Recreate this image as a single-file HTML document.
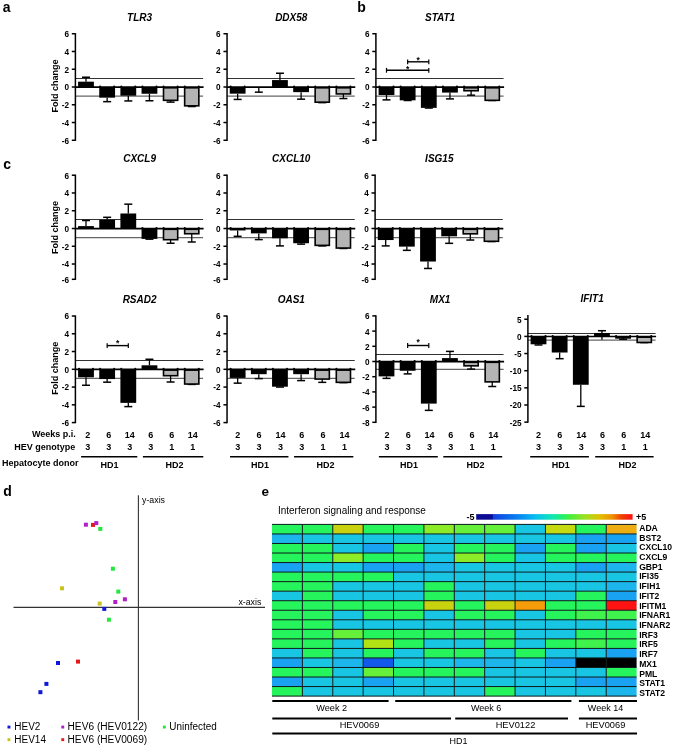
<!DOCTYPE html><html><head><meta charset="utf-8"><style>html,body{margin:0;padding:0;background:#fff;width:675px;height:747px;overflow:hidden}svg{display:block;font-family:"Liberation Sans",sans-serif;will-change:transform}</style></head><body><svg width="675" height="747" viewBox="0 0 675 747" font-family='"Liberation Sans", sans-serif'>
<rect width="675" height="747" fill="#fff"/>
<text x="2.80" y="12.20" font-size="14" font-weight="bold" font-style="normal" text-anchor="start" fill="#000">a</text>
<text x="357.20" y="12.00" font-size="14" font-weight="bold" font-style="normal" text-anchor="start" fill="#000">b</text>
<text x="3.20" y="169.00" font-size="14" font-weight="bold" font-style="normal" text-anchor="start" fill="#000">c</text>
<text x="3.20" y="495.70" font-size="14" font-weight="bold" font-style="normal" text-anchor="start" fill="#000">d</text>
<text x="261.50" y="496.00" font-size="13.5" font-weight="bold" font-style="normal" text-anchor="start" fill="#000">e</text>
<line x1="75.40" y1="78.50" x2="203.10" y2="78.50" stroke="#333" stroke-width="1.0"/>
<line x1="75.40" y1="96.08" x2="203.10" y2="96.08" stroke="#666" stroke-width="1.3"/>
<line x1="86.00" y1="81.67" x2="86.00" y2="77.23" stroke="#000" stroke-width="1.3"/>
<line x1="82.00" y1="77.23" x2="90.00" y2="77.23" stroke="#000" stroke-width="1.5"/>
<rect x="78.10" y="81.67" width="15.80" height="5.33" fill="#000"/>
<line x1="107.15" y1="97.66" x2="107.15" y2="101.65" stroke="#000" stroke-width="1.3"/>
<line x1="103.15" y1="101.65" x2="111.15" y2="101.65" stroke="#000" stroke-width="1.5"/>
<rect x="99.25" y="87.00" width="15.80" height="10.66" fill="#000"/>
<circle cx="100.15" cy="86.60" r="1.05" fill="#000"/><circle cx="114.15" cy="86.60" r="1.05" fill="#000"/>
<line x1="128.30" y1="95.70" x2="128.30" y2="100.94" stroke="#000" stroke-width="1.3"/>
<line x1="124.30" y1="100.94" x2="132.30" y2="100.94" stroke="#000" stroke-width="1.5"/>
<rect x="120.40" y="87.00" width="15.80" height="8.70" fill="#000"/>
<circle cx="121.30" cy="86.60" r="1.05" fill="#000"/><circle cx="135.30" cy="86.60" r="1.05" fill="#000"/>
<line x1="149.45" y1="93.75" x2="149.45" y2="100.76" stroke="#000" stroke-width="1.3"/>
<line x1="145.45" y1="100.76" x2="153.45" y2="100.76" stroke="#000" stroke-width="1.5"/>
<rect x="141.55" y="87.00" width="15.80" height="6.75" fill="#000"/>
<circle cx="142.45" cy="86.60" r="1.05" fill="#000"/><circle cx="156.45" cy="86.60" r="1.05" fill="#000"/>
<line x1="170.60" y1="100.32" x2="170.60" y2="102.10" stroke="#000" stroke-width="1.3"/>
<line x1="166.60" y1="102.10" x2="174.60" y2="102.10" stroke="#000" stroke-width="1.5"/>
<rect x="163.50" y="87.80" width="14.20" height="12.52" fill="#b4b4b4" stroke="#000" stroke-width="1.6"/>
<circle cx="163.60" cy="86.60" r="1.05" fill="#000"/><circle cx="177.60" cy="86.60" r="1.05" fill="#000"/>
<line x1="191.75" y1="105.83" x2="191.75" y2="106.54" stroke="#000" stroke-width="1.3"/>
<line x1="187.75" y1="106.54" x2="195.75" y2="106.54" stroke="#000" stroke-width="1.5"/>
<rect x="184.65" y="87.80" width="14.20" height="18.03" fill="#b4b4b4" stroke="#000" stroke-width="1.6"/>
<circle cx="184.75" cy="86.60" r="1.05" fill="#000"/><circle cx="198.75" cy="86.60" r="1.05" fill="#000"/>
<line x1="75.40" y1="87.10" x2="203.60" y2="87.10" stroke="#000" stroke-width="1.6"/>
<line x1="75.40" y1="33.12" x2="75.40" y2="140.88" stroke="#000" stroke-width="1.5"/>
<line x1="71.80" y1="33.72" x2="75.40" y2="33.72" stroke="#000" stroke-width="1.5"/>
<text x="69.00" y="37.12" font-size="8.2" font-weight="bold" font-style="normal" text-anchor="end" fill="#000">6</text>
<line x1="71.80" y1="51.48" x2="75.40" y2="51.48" stroke="#000" stroke-width="1.5"/>
<text x="69.00" y="54.88" font-size="8.2" font-weight="bold" font-style="normal" text-anchor="end" fill="#000">4</text>
<line x1="71.80" y1="69.24" x2="75.40" y2="69.24" stroke="#000" stroke-width="1.5"/>
<text x="69.00" y="72.64" font-size="8.2" font-weight="bold" font-style="normal" text-anchor="end" fill="#000">2</text>
<line x1="71.80" y1="87.00" x2="75.40" y2="87.00" stroke="#000" stroke-width="1.5"/>
<text x="69.00" y="90.40" font-size="8.2" font-weight="bold" font-style="normal" text-anchor="end" fill="#000">0</text>
<line x1="71.80" y1="104.76" x2="75.40" y2="104.76" stroke="#000" stroke-width="1.5"/>
<text x="69.00" y="108.16" font-size="8.2" font-weight="bold" font-style="normal" text-anchor="end" fill="#000">-2</text>
<line x1="71.80" y1="122.52" x2="75.40" y2="122.52" stroke="#000" stroke-width="1.5"/>
<text x="69.00" y="125.92" font-size="8.2" font-weight="bold" font-style="normal" text-anchor="end" fill="#000">-4</text>
<line x1="71.80" y1="140.28" x2="75.40" y2="140.28" stroke="#000" stroke-width="1.5"/>
<text x="69.00" y="143.68" font-size="8.2" font-weight="bold" font-style="normal" text-anchor="end" fill="#000">-6</text>
<text x="139.60" y="20.72" font-size="10" font-weight="bold" font-style="italic" text-anchor="middle" fill="#000">TLR3</text>
<text transform="translate(57.60,86.00) rotate(-90)" x="0" y="0" font-size="8.6" font-weight="bold" text-anchor="middle" textLength="53" lengthAdjust="spacingAndGlyphs">Fold change</text>
<line x1="227.05" y1="78.50" x2="354.75" y2="78.50" stroke="#333" stroke-width="1.0"/>
<line x1="227.05" y1="96.08" x2="354.75" y2="96.08" stroke="#666" stroke-width="1.3"/>
<line x1="237.65" y1="93.66" x2="237.65" y2="99.43" stroke="#000" stroke-width="1.3"/>
<line x1="233.65" y1="99.43" x2="241.65" y2="99.43" stroke="#000" stroke-width="1.5"/>
<rect x="229.75" y="87.00" width="15.80" height="6.66" fill="#000"/>
<circle cx="230.65" cy="86.60" r="1.05" fill="#000"/><circle cx="244.65" cy="86.60" r="1.05" fill="#000"/>
<line x1="258.80" y1="87.44" x2="258.80" y2="92.15" stroke="#000" stroke-width="1.3"/>
<line x1="254.80" y1="92.15" x2="262.80" y2="92.15" stroke="#000" stroke-width="1.5"/>
<rect x="250.90" y="87.00" width="15.80" height="0.44" fill="#000"/>
<line x1="279.95" y1="80.07" x2="279.95" y2="73.24" stroke="#000" stroke-width="1.3"/>
<line x1="275.95" y1="73.24" x2="283.95" y2="73.24" stroke="#000" stroke-width="1.5"/>
<rect x="272.05" y="80.07" width="15.80" height="6.93" fill="#000"/>
<line x1="301.10" y1="92.15" x2="301.10" y2="99.17" stroke="#000" stroke-width="1.3"/>
<line x1="297.10" y1="99.17" x2="305.10" y2="99.17" stroke="#000" stroke-width="1.5"/>
<rect x="293.20" y="87.00" width="15.80" height="5.15" fill="#000"/>
<circle cx="294.10" cy="86.60" r="1.05" fill="#000"/><circle cx="308.10" cy="86.60" r="1.05" fill="#000"/>
<line x1="322.25" y1="102.18" x2="322.25" y2="102.63" stroke="#000" stroke-width="1.3"/>
<line x1="318.25" y1="102.63" x2="326.25" y2="102.63" stroke="#000" stroke-width="1.5"/>
<rect x="315.15" y="87.80" width="14.20" height="14.38" fill="#b4b4b4" stroke="#000" stroke-width="1.6"/>
<circle cx="315.25" cy="86.60" r="1.05" fill="#000"/><circle cx="329.25" cy="86.60" r="1.05" fill="#000"/>
<line x1="343.40" y1="93.93" x2="343.40" y2="98.54" stroke="#000" stroke-width="1.3"/>
<line x1="339.40" y1="98.54" x2="347.40" y2="98.54" stroke="#000" stroke-width="1.5"/>
<rect x="336.30" y="87.80" width="14.20" height="6.13" fill="#b4b4b4" stroke="#000" stroke-width="1.6"/>
<circle cx="336.40" cy="86.60" r="1.05" fill="#000"/><circle cx="350.40" cy="86.60" r="1.05" fill="#000"/>
<line x1="227.05" y1="87.10" x2="355.25" y2="87.10" stroke="#000" stroke-width="1.6"/>
<line x1="227.05" y1="33.12" x2="227.05" y2="140.88" stroke="#000" stroke-width="1.5"/>
<line x1="223.45" y1="33.72" x2="227.05" y2="33.72" stroke="#000" stroke-width="1.5"/>
<text x="220.65" y="37.12" font-size="8.2" font-weight="bold" font-style="normal" text-anchor="end" fill="#000">6</text>
<line x1="223.45" y1="51.48" x2="227.05" y2="51.48" stroke="#000" stroke-width="1.5"/>
<text x="220.65" y="54.88" font-size="8.2" font-weight="bold" font-style="normal" text-anchor="end" fill="#000">4</text>
<line x1="223.45" y1="69.24" x2="227.05" y2="69.24" stroke="#000" stroke-width="1.5"/>
<text x="220.65" y="72.64" font-size="8.2" font-weight="bold" font-style="normal" text-anchor="end" fill="#000">2</text>
<line x1="223.45" y1="87.00" x2="227.05" y2="87.00" stroke="#000" stroke-width="1.5"/>
<text x="220.65" y="90.40" font-size="8.2" font-weight="bold" font-style="normal" text-anchor="end" fill="#000">0</text>
<line x1="223.45" y1="104.76" x2="227.05" y2="104.76" stroke="#000" stroke-width="1.5"/>
<text x="220.65" y="108.16" font-size="8.2" font-weight="bold" font-style="normal" text-anchor="end" fill="#000">-2</text>
<line x1="223.45" y1="122.52" x2="227.05" y2="122.52" stroke="#000" stroke-width="1.5"/>
<text x="220.65" y="125.92" font-size="8.2" font-weight="bold" font-style="normal" text-anchor="end" fill="#000">-4</text>
<line x1="223.45" y1="140.28" x2="227.05" y2="140.28" stroke="#000" stroke-width="1.5"/>
<text x="220.65" y="143.68" font-size="8.2" font-weight="bold" font-style="normal" text-anchor="end" fill="#000">-6</text>
<text x="291.25" y="20.72" font-size="10" font-weight="bold" font-style="italic" text-anchor="middle" fill="#000">DDX58</text>
<line x1="375.90" y1="78.50" x2="503.60" y2="78.50" stroke="#333" stroke-width="1.0"/>
<line x1="375.90" y1="96.08" x2="503.60" y2="96.08" stroke="#666" stroke-width="1.3"/>
<line x1="386.50" y1="94.99" x2="386.50" y2="99.88" stroke="#000" stroke-width="1.3"/>
<line x1="382.50" y1="99.88" x2="390.50" y2="99.88" stroke="#000" stroke-width="1.5"/>
<rect x="378.60" y="87.00" width="15.80" height="7.99" fill="#000"/>
<circle cx="379.50" cy="86.60" r="1.05" fill="#000"/><circle cx="393.50" cy="86.60" r="1.05" fill="#000"/>
<line x1="407.65" y1="100.32" x2="407.65" y2="100.50" stroke="#000" stroke-width="1.3"/>
<line x1="403.65" y1="100.50" x2="411.65" y2="100.50" stroke="#000" stroke-width="1.5"/>
<rect x="399.75" y="87.00" width="15.80" height="13.32" fill="#000"/>
<circle cx="400.65" cy="86.60" r="1.05" fill="#000"/><circle cx="414.65" cy="86.60" r="1.05" fill="#000"/>
<line x1="428.80" y1="107.87" x2="428.80" y2="108.05" stroke="#000" stroke-width="1.3"/>
<line x1="424.80" y1="108.05" x2="432.80" y2="108.05" stroke="#000" stroke-width="1.5"/>
<rect x="420.90" y="87.00" width="15.80" height="20.87" fill="#000"/>
<circle cx="421.80" cy="86.60" r="1.05" fill="#000"/><circle cx="435.80" cy="86.60" r="1.05" fill="#000"/>
<line x1="449.95" y1="92.59" x2="449.95" y2="98.90" stroke="#000" stroke-width="1.3"/>
<line x1="445.95" y1="98.90" x2="453.95" y2="98.90" stroke="#000" stroke-width="1.5"/>
<rect x="442.05" y="87.00" width="15.80" height="5.59" fill="#000"/>
<circle cx="442.95" cy="86.60" r="1.05" fill="#000"/><circle cx="456.95" cy="86.60" r="1.05" fill="#000"/>
<line x1="471.10" y1="90.73" x2="471.10" y2="95.17" stroke="#000" stroke-width="1.3"/>
<line x1="467.10" y1="95.17" x2="475.10" y2="95.17" stroke="#000" stroke-width="1.5"/>
<rect x="464.00" y="87.80" width="14.20" height="2.93" fill="#b4b4b4" stroke="#000" stroke-width="1.6"/>
<circle cx="464.10" cy="86.60" r="1.05" fill="#000"/><circle cx="478.10" cy="86.60" r="1.05" fill="#000"/>
<line x1="492.25" y1="100.32" x2="492.25" y2="100.50" stroke="#000" stroke-width="1.3"/>
<line x1="488.25" y1="100.50" x2="496.25" y2="100.50" stroke="#000" stroke-width="1.5"/>
<rect x="485.15" y="87.80" width="14.20" height="12.52" fill="#b4b4b4" stroke="#000" stroke-width="1.6"/>
<circle cx="485.25" cy="86.60" r="1.05" fill="#000"/><circle cx="499.25" cy="86.60" r="1.05" fill="#000"/>
<line x1="375.90" y1="87.10" x2="504.10" y2="87.10" stroke="#000" stroke-width="1.6"/>
<line x1="375.90" y1="33.12" x2="375.90" y2="140.88" stroke="#000" stroke-width="1.5"/>
<line x1="372.30" y1="33.72" x2="375.90" y2="33.72" stroke="#000" stroke-width="1.5"/>
<text x="369.50" y="37.12" font-size="8.2" font-weight="bold" font-style="normal" text-anchor="end" fill="#000">6</text>
<line x1="372.30" y1="51.48" x2="375.90" y2="51.48" stroke="#000" stroke-width="1.5"/>
<text x="369.50" y="54.88" font-size="8.2" font-weight="bold" font-style="normal" text-anchor="end" fill="#000">4</text>
<line x1="372.30" y1="69.24" x2="375.90" y2="69.24" stroke="#000" stroke-width="1.5"/>
<text x="369.50" y="72.64" font-size="8.2" font-weight="bold" font-style="normal" text-anchor="end" fill="#000">2</text>
<line x1="372.30" y1="87.00" x2="375.90" y2="87.00" stroke="#000" stroke-width="1.5"/>
<text x="369.50" y="90.40" font-size="8.2" font-weight="bold" font-style="normal" text-anchor="end" fill="#000">0</text>
<line x1="372.30" y1="104.76" x2="375.90" y2="104.76" stroke="#000" stroke-width="1.5"/>
<text x="369.50" y="108.16" font-size="8.2" font-weight="bold" font-style="normal" text-anchor="end" fill="#000">-2</text>
<line x1="372.30" y1="122.52" x2="375.90" y2="122.52" stroke="#000" stroke-width="1.5"/>
<text x="369.50" y="125.92" font-size="8.2" font-weight="bold" font-style="normal" text-anchor="end" fill="#000">-4</text>
<line x1="372.30" y1="140.28" x2="375.90" y2="140.28" stroke="#000" stroke-width="1.5"/>
<text x="369.50" y="143.68" font-size="8.2" font-weight="bold" font-style="normal" text-anchor="end" fill="#000">-6</text>
<text x="440.10" y="20.72" font-size="10" font-weight="bold" font-style="italic" text-anchor="middle" fill="#000">STAT1</text>
<line x1="386.50" y1="70.30" x2="428.80" y2="70.30" stroke="#000" stroke-width="1.4"/>
<line x1="386.50" y1="67.90" x2="386.50" y2="72.70" stroke="#000" stroke-width="1.2"/>
<line x1="428.80" y1="67.90" x2="428.80" y2="72.70" stroke="#000" stroke-width="1.2"/>
<text x="407.65" y="71.90" font-size="8.5" font-weight="bold" font-style="normal" text-anchor="middle" fill="#000">*</text>
<line x1="407.65" y1="61.80" x2="428.80" y2="61.80" stroke="#000" stroke-width="1.4"/>
<line x1="407.65" y1="59.40" x2="407.65" y2="64.20" stroke="#000" stroke-width="1.2"/>
<line x1="428.80" y1="59.40" x2="428.80" y2="64.20" stroke="#000" stroke-width="1.2"/>
<text x="418.22" y="63.00" font-size="8.5" font-weight="bold" font-style="normal" text-anchor="middle" fill="#000">*</text>
<line x1="75.40" y1="219.50" x2="203.10" y2="219.50" stroke="#333" stroke-width="1.0"/>
<line x1="75.40" y1="237.58" x2="203.10" y2="237.58" stroke="#666" stroke-width="1.3"/>
<line x1="86.00" y1="226.10" x2="86.00" y2="220.51" stroke="#000" stroke-width="1.3"/>
<line x1="82.00" y1="220.51" x2="90.00" y2="220.51" stroke="#000" stroke-width="1.5"/>
<rect x="78.10" y="226.10" width="15.80" height="2.40" fill="#000"/>
<line x1="107.15" y1="219.80" x2="107.15" y2="217.31" stroke="#000" stroke-width="1.3"/>
<line x1="103.15" y1="217.31" x2="111.15" y2="217.31" stroke="#000" stroke-width="1.5"/>
<rect x="99.25" y="219.80" width="15.80" height="8.70" fill="#000"/>
<line x1="128.30" y1="213.49" x2="128.30" y2="204.17" stroke="#000" stroke-width="1.3"/>
<line x1="124.30" y1="204.17" x2="132.30" y2="204.17" stroke="#000" stroke-width="1.5"/>
<rect x="120.40" y="213.49" width="15.80" height="15.01" fill="#000"/>
<line x1="149.45" y1="238.89" x2="149.45" y2="239.16" stroke="#000" stroke-width="1.3"/>
<line x1="145.45" y1="239.16" x2="153.45" y2="239.16" stroke="#000" stroke-width="1.5"/>
<rect x="141.55" y="228.50" width="15.80" height="10.39" fill="#000"/>
<circle cx="142.45" cy="228.10" r="1.05" fill="#000"/><circle cx="156.45" cy="228.10" r="1.05" fill="#000"/>
<line x1="170.60" y1="239.69" x2="170.60" y2="243.24" stroke="#000" stroke-width="1.3"/>
<line x1="166.60" y1="243.24" x2="174.60" y2="243.24" stroke="#000" stroke-width="1.5"/>
<rect x="163.50" y="229.30" width="14.20" height="10.39" fill="#b4b4b4" stroke="#000" stroke-width="1.6"/>
<circle cx="163.60" cy="228.10" r="1.05" fill="#000"/><circle cx="177.60" cy="228.10" r="1.05" fill="#000"/>
<line x1="191.75" y1="233.74" x2="191.75" y2="242.00" stroke="#000" stroke-width="1.3"/>
<line x1="187.75" y1="242.00" x2="195.75" y2="242.00" stroke="#000" stroke-width="1.5"/>
<rect x="184.65" y="229.30" width="14.20" height="4.44" fill="#b4b4b4" stroke="#000" stroke-width="1.6"/>
<circle cx="184.75" cy="228.10" r="1.05" fill="#000"/><circle cx="198.75" cy="228.10" r="1.05" fill="#000"/>
<line x1="75.40" y1="228.60" x2="203.60" y2="228.60" stroke="#000" stroke-width="1.6"/>
<line x1="75.40" y1="174.62" x2="75.40" y2="279.90" stroke="#000" stroke-width="1.5"/>
<line x1="71.80" y1="175.22" x2="75.40" y2="175.22" stroke="#000" stroke-width="1.5"/>
<text x="69.00" y="178.62" font-size="8.2" font-weight="bold" font-style="normal" text-anchor="end" fill="#000">6</text>
<line x1="71.80" y1="192.98" x2="75.40" y2="192.98" stroke="#000" stroke-width="1.5"/>
<text x="69.00" y="196.38" font-size="8.2" font-weight="bold" font-style="normal" text-anchor="end" fill="#000">4</text>
<line x1="71.80" y1="210.74" x2="75.40" y2="210.74" stroke="#000" stroke-width="1.5"/>
<text x="69.00" y="214.14" font-size="8.2" font-weight="bold" font-style="normal" text-anchor="end" fill="#000">2</text>
<line x1="71.80" y1="228.50" x2="75.40" y2="228.50" stroke="#000" stroke-width="1.5"/>
<text x="69.00" y="231.90" font-size="8.2" font-weight="bold" font-style="normal" text-anchor="end" fill="#000">0</text>
<line x1="71.80" y1="246.26" x2="75.40" y2="246.26" stroke="#000" stroke-width="1.5"/>
<text x="69.00" y="249.66" font-size="8.2" font-weight="bold" font-style="normal" text-anchor="end" fill="#000">-2</text>
<line x1="71.80" y1="264.02" x2="75.40" y2="264.02" stroke="#000" stroke-width="1.5"/>
<text x="69.00" y="267.42" font-size="8.2" font-weight="bold" font-style="normal" text-anchor="end" fill="#000">-4</text>
<line x1="71.80" y1="279.30" x2="75.40" y2="279.30" stroke="#000" stroke-width="1.5"/>
<text x="69.00" y="282.70" font-size="8.2" font-weight="bold" font-style="normal" text-anchor="end" fill="#000">-6</text>
<text x="139.60" y="162.22" font-size="10" font-weight="bold" font-style="italic" text-anchor="middle" fill="#000">CXCL9</text>
<text transform="translate(57.60,227.50) rotate(-90)" x="0" y="0" font-size="8.6" font-weight="bold" text-anchor="middle" textLength="53" lengthAdjust="spacingAndGlyphs">Fold change</text>
<line x1="227.05" y1="219.50" x2="354.75" y2="219.50" stroke="#333" stroke-width="1.0"/>
<line x1="227.05" y1="237.58" x2="354.75" y2="237.58" stroke="#666" stroke-width="1.3"/>
<line x1="237.65" y1="230.45" x2="237.65" y2="236.31" stroke="#000" stroke-width="1.3"/>
<line x1="233.65" y1="236.31" x2="241.65" y2="236.31" stroke="#000" stroke-width="1.5"/>
<rect x="229.75" y="228.50" width="15.80" height="1.95" fill="#000"/>
<circle cx="230.65" cy="228.10" r="1.05" fill="#000"/><circle cx="244.65" cy="228.10" r="1.05" fill="#000"/>
<line x1="258.80" y1="233.38" x2="258.80" y2="239.60" stroke="#000" stroke-width="1.3"/>
<line x1="254.80" y1="239.60" x2="262.80" y2="239.60" stroke="#000" stroke-width="1.5"/>
<rect x="250.90" y="228.50" width="15.80" height="4.88" fill="#000"/>
<circle cx="251.80" cy="228.10" r="1.05" fill="#000"/><circle cx="265.80" cy="228.10" r="1.05" fill="#000"/>
<line x1="279.95" y1="238.27" x2="279.95" y2="245.90" stroke="#000" stroke-width="1.3"/>
<line x1="275.95" y1="245.90" x2="283.95" y2="245.90" stroke="#000" stroke-width="1.5"/>
<rect x="272.05" y="228.50" width="15.80" height="9.77" fill="#000"/>
<circle cx="272.95" cy="228.10" r="1.05" fill="#000"/><circle cx="286.95" cy="228.10" r="1.05" fill="#000"/>
<line x1="301.10" y1="243.24" x2="301.10" y2="244.13" stroke="#000" stroke-width="1.3"/>
<line x1="297.10" y1="244.13" x2="305.10" y2="244.13" stroke="#000" stroke-width="1.5"/>
<rect x="293.20" y="228.50" width="15.80" height="14.74" fill="#000"/>
<circle cx="294.10" cy="228.10" r="1.05" fill="#000"/><circle cx="308.10" cy="228.10" r="1.05" fill="#000"/>
<line x1="322.25" y1="245.37" x2="322.25" y2="245.90" stroke="#000" stroke-width="1.3"/>
<line x1="318.25" y1="245.90" x2="326.25" y2="245.90" stroke="#000" stroke-width="1.5"/>
<rect x="315.15" y="229.30" width="14.20" height="16.07" fill="#b4b4b4" stroke="#000" stroke-width="1.6"/>
<circle cx="315.25" cy="228.10" r="1.05" fill="#000"/><circle cx="329.25" cy="228.10" r="1.05" fill="#000"/>
<line x1="343.40" y1="248.04" x2="343.40" y2="248.48" stroke="#000" stroke-width="1.3"/>
<line x1="339.40" y1="248.48" x2="347.40" y2="248.48" stroke="#000" stroke-width="1.5"/>
<rect x="336.30" y="229.30" width="14.20" height="18.74" fill="#b4b4b4" stroke="#000" stroke-width="1.6"/>
<circle cx="336.40" cy="228.10" r="1.05" fill="#000"/><circle cx="350.40" cy="228.10" r="1.05" fill="#000"/>
<line x1="227.05" y1="228.60" x2="355.25" y2="228.60" stroke="#000" stroke-width="1.6"/>
<line x1="227.05" y1="174.62" x2="227.05" y2="279.90" stroke="#000" stroke-width="1.5"/>
<line x1="223.45" y1="175.22" x2="227.05" y2="175.22" stroke="#000" stroke-width="1.5"/>
<text x="220.65" y="178.62" font-size="8.2" font-weight="bold" font-style="normal" text-anchor="end" fill="#000">6</text>
<line x1="223.45" y1="192.98" x2="227.05" y2="192.98" stroke="#000" stroke-width="1.5"/>
<text x="220.65" y="196.38" font-size="8.2" font-weight="bold" font-style="normal" text-anchor="end" fill="#000">4</text>
<line x1="223.45" y1="210.74" x2="227.05" y2="210.74" stroke="#000" stroke-width="1.5"/>
<text x="220.65" y="214.14" font-size="8.2" font-weight="bold" font-style="normal" text-anchor="end" fill="#000">2</text>
<line x1="223.45" y1="228.50" x2="227.05" y2="228.50" stroke="#000" stroke-width="1.5"/>
<text x="220.65" y="231.90" font-size="8.2" font-weight="bold" font-style="normal" text-anchor="end" fill="#000">0</text>
<line x1="223.45" y1="246.26" x2="227.05" y2="246.26" stroke="#000" stroke-width="1.5"/>
<text x="220.65" y="249.66" font-size="8.2" font-weight="bold" font-style="normal" text-anchor="end" fill="#000">-2</text>
<line x1="223.45" y1="264.02" x2="227.05" y2="264.02" stroke="#000" stroke-width="1.5"/>
<text x="220.65" y="267.42" font-size="8.2" font-weight="bold" font-style="normal" text-anchor="end" fill="#000">-4</text>
<line x1="223.45" y1="279.30" x2="227.05" y2="279.30" stroke="#000" stroke-width="1.5"/>
<text x="220.65" y="282.70" font-size="8.2" font-weight="bold" font-style="normal" text-anchor="end" fill="#000">-6</text>
<text x="291.25" y="162.22" font-size="10" font-weight="bold" font-style="italic" text-anchor="middle" fill="#000">CXCL10</text>
<line x1="375.10" y1="219.50" x2="502.80" y2="219.50" stroke="#333" stroke-width="1.0"/>
<line x1="375.10" y1="237.58" x2="502.80" y2="237.58" stroke="#666" stroke-width="1.3"/>
<line x1="385.70" y1="240.04" x2="385.70" y2="245.90" stroke="#000" stroke-width="1.3"/>
<line x1="381.70" y1="245.90" x2="389.70" y2="245.90" stroke="#000" stroke-width="1.5"/>
<rect x="377.80" y="228.50" width="15.80" height="11.54" fill="#000"/>
<circle cx="378.70" cy="228.10" r="1.05" fill="#000"/><circle cx="392.70" cy="228.10" r="1.05" fill="#000"/>
<line x1="406.85" y1="246.62" x2="406.85" y2="250.34" stroke="#000" stroke-width="1.3"/>
<line x1="402.85" y1="250.34" x2="410.85" y2="250.34" stroke="#000" stroke-width="1.5"/>
<rect x="398.95" y="228.50" width="15.80" height="18.12" fill="#000"/>
<circle cx="399.85" cy="228.10" r="1.05" fill="#000"/><circle cx="413.85" cy="228.10" r="1.05" fill="#000"/>
<line x1="428.00" y1="261.53" x2="428.00" y2="268.46" stroke="#000" stroke-width="1.3"/>
<line x1="424.00" y1="268.46" x2="432.00" y2="268.46" stroke="#000" stroke-width="1.5"/>
<rect x="420.10" y="228.50" width="15.80" height="33.03" fill="#000"/>
<circle cx="421.00" cy="228.10" r="1.05" fill="#000"/><circle cx="435.00" cy="228.10" r="1.05" fill="#000"/>
<line x1="449.15" y1="236.31" x2="449.15" y2="243.33" stroke="#000" stroke-width="1.3"/>
<line x1="445.15" y1="243.33" x2="453.15" y2="243.33" stroke="#000" stroke-width="1.5"/>
<rect x="441.25" y="228.50" width="15.80" height="7.81" fill="#000"/>
<circle cx="442.15" cy="228.10" r="1.05" fill="#000"/><circle cx="456.15" cy="228.10" r="1.05" fill="#000"/>
<line x1="470.30" y1="233.83" x2="470.30" y2="240.04" stroke="#000" stroke-width="1.3"/>
<line x1="466.30" y1="240.04" x2="474.30" y2="240.04" stroke="#000" stroke-width="1.5"/>
<rect x="463.20" y="229.30" width="14.20" height="4.53" fill="#b4b4b4" stroke="#000" stroke-width="1.6"/>
<circle cx="463.30" cy="228.10" r="1.05" fill="#000"/><circle cx="477.30" cy="228.10" r="1.05" fill="#000"/>
<line x1="491.45" y1="241.29" x2="491.45" y2="241.55" stroke="#000" stroke-width="1.3"/>
<line x1="487.45" y1="241.55" x2="495.45" y2="241.55" stroke="#000" stroke-width="1.5"/>
<rect x="484.35" y="229.30" width="14.20" height="11.99" fill="#b4b4b4" stroke="#000" stroke-width="1.6"/>
<circle cx="484.45" cy="228.10" r="1.05" fill="#000"/><circle cx="498.45" cy="228.10" r="1.05" fill="#000"/>
<line x1="375.10" y1="228.60" x2="503.30" y2="228.60" stroke="#000" stroke-width="1.6"/>
<line x1="375.10" y1="174.62" x2="375.10" y2="279.90" stroke="#000" stroke-width="1.5"/>
<line x1="371.50" y1="175.22" x2="375.10" y2="175.22" stroke="#000" stroke-width="1.5"/>
<text x="368.70" y="178.62" font-size="8.2" font-weight="bold" font-style="normal" text-anchor="end" fill="#000">6</text>
<line x1="371.50" y1="192.98" x2="375.10" y2="192.98" stroke="#000" stroke-width="1.5"/>
<text x="368.70" y="196.38" font-size="8.2" font-weight="bold" font-style="normal" text-anchor="end" fill="#000">4</text>
<line x1="371.50" y1="210.74" x2="375.10" y2="210.74" stroke="#000" stroke-width="1.5"/>
<text x="368.70" y="214.14" font-size="8.2" font-weight="bold" font-style="normal" text-anchor="end" fill="#000">2</text>
<line x1="371.50" y1="228.50" x2="375.10" y2="228.50" stroke="#000" stroke-width="1.5"/>
<text x="368.70" y="231.90" font-size="8.2" font-weight="bold" font-style="normal" text-anchor="end" fill="#000">0</text>
<line x1="371.50" y1="246.26" x2="375.10" y2="246.26" stroke="#000" stroke-width="1.5"/>
<text x="368.70" y="249.66" font-size="8.2" font-weight="bold" font-style="normal" text-anchor="end" fill="#000">-2</text>
<line x1="371.50" y1="264.02" x2="375.10" y2="264.02" stroke="#000" stroke-width="1.5"/>
<text x="368.70" y="267.42" font-size="8.2" font-weight="bold" font-style="normal" text-anchor="end" fill="#000">-4</text>
<line x1="371.50" y1="279.30" x2="375.10" y2="279.30" stroke="#000" stroke-width="1.5"/>
<text x="368.70" y="282.70" font-size="8.2" font-weight="bold" font-style="normal" text-anchor="end" fill="#000">-6</text>
<text x="439.30" y="162.22" font-size="10" font-weight="bold" font-style="italic" text-anchor="middle" fill="#000">ISG15</text>
<line x1="75.40" y1="360.50" x2="203.10" y2="360.50" stroke="#333" stroke-width="1.0"/>
<line x1="75.40" y1="378.38" x2="203.10" y2="378.38" stroke="#666" stroke-width="1.3"/>
<line x1="86.00" y1="377.29" x2="86.00" y2="385.28" stroke="#000" stroke-width="1.3"/>
<line x1="82.00" y1="385.28" x2="90.00" y2="385.28" stroke="#000" stroke-width="1.5"/>
<rect x="78.10" y="369.30" width="15.80" height="7.99" fill="#000"/>
<circle cx="79.00" cy="368.90" r="1.05" fill="#000"/><circle cx="93.00" cy="368.90" r="1.05" fill="#000"/>
<line x1="107.15" y1="379.07" x2="107.15" y2="382.18" stroke="#000" stroke-width="1.3"/>
<line x1="103.15" y1="382.18" x2="111.15" y2="382.18" stroke="#000" stroke-width="1.5"/>
<rect x="99.25" y="369.30" width="15.80" height="9.77" fill="#000"/>
<circle cx="100.15" cy="368.90" r="1.05" fill="#000"/><circle cx="114.15" cy="368.90" r="1.05" fill="#000"/>
<line x1="128.30" y1="402.87" x2="128.30" y2="406.60" stroke="#000" stroke-width="1.3"/>
<line x1="124.30" y1="406.60" x2="132.30" y2="406.60" stroke="#000" stroke-width="1.5"/>
<rect x="120.40" y="369.30" width="15.80" height="33.57" fill="#000"/>
<circle cx="121.30" cy="368.90" r="1.05" fill="#000"/><circle cx="135.30" cy="368.90" r="1.05" fill="#000"/>
<line x1="149.45" y1="365.30" x2="149.45" y2="359.27" stroke="#000" stroke-width="1.3"/>
<line x1="145.45" y1="359.27" x2="153.45" y2="359.27" stroke="#000" stroke-width="1.5"/>
<rect x="141.55" y="365.30" width="15.80" height="4.00" fill="#000"/>
<line x1="170.60" y1="375.69" x2="170.60" y2="382.00" stroke="#000" stroke-width="1.3"/>
<line x1="166.60" y1="382.00" x2="174.60" y2="382.00" stroke="#000" stroke-width="1.5"/>
<rect x="163.50" y="370.10" width="14.20" height="5.59" fill="#b4b4b4" stroke="#000" stroke-width="1.6"/>
<circle cx="163.60" cy="368.90" r="1.05" fill="#000"/><circle cx="177.60" cy="368.90" r="1.05" fill="#000"/>
<line x1="191.75" y1="384.04" x2="191.75" y2="384.40" stroke="#000" stroke-width="1.3"/>
<line x1="187.75" y1="384.40" x2="195.75" y2="384.40" stroke="#000" stroke-width="1.5"/>
<rect x="184.65" y="370.10" width="14.20" height="13.94" fill="#b4b4b4" stroke="#000" stroke-width="1.6"/>
<circle cx="184.75" cy="368.90" r="1.05" fill="#000"/><circle cx="198.75" cy="368.90" r="1.05" fill="#000"/>
<line x1="75.40" y1="369.40" x2="203.60" y2="369.40" stroke="#000" stroke-width="1.6"/>
<line x1="75.40" y1="315.42" x2="75.40" y2="423.18" stroke="#000" stroke-width="1.5"/>
<line x1="71.80" y1="316.02" x2="75.40" y2="316.02" stroke="#000" stroke-width="1.5"/>
<text x="69.00" y="319.42" font-size="8.2" font-weight="bold" font-style="normal" text-anchor="end" fill="#000">6</text>
<line x1="71.80" y1="333.78" x2="75.40" y2="333.78" stroke="#000" stroke-width="1.5"/>
<text x="69.00" y="337.18" font-size="8.2" font-weight="bold" font-style="normal" text-anchor="end" fill="#000">4</text>
<line x1="71.80" y1="351.54" x2="75.40" y2="351.54" stroke="#000" stroke-width="1.5"/>
<text x="69.00" y="354.94" font-size="8.2" font-weight="bold" font-style="normal" text-anchor="end" fill="#000">2</text>
<line x1="71.80" y1="369.30" x2="75.40" y2="369.30" stroke="#000" stroke-width="1.5"/>
<text x="69.00" y="372.70" font-size="8.2" font-weight="bold" font-style="normal" text-anchor="end" fill="#000">0</text>
<line x1="71.80" y1="387.06" x2="75.40" y2="387.06" stroke="#000" stroke-width="1.5"/>
<text x="69.00" y="390.46" font-size="8.2" font-weight="bold" font-style="normal" text-anchor="end" fill="#000">-2</text>
<line x1="71.80" y1="404.82" x2="75.40" y2="404.82" stroke="#000" stroke-width="1.5"/>
<text x="69.00" y="408.22" font-size="8.2" font-weight="bold" font-style="normal" text-anchor="end" fill="#000">-4</text>
<line x1="71.80" y1="422.58" x2="75.40" y2="422.58" stroke="#000" stroke-width="1.5"/>
<text x="69.00" y="425.98" font-size="8.2" font-weight="bold" font-style="normal" text-anchor="end" fill="#000">-6</text>
<text x="139.60" y="303.02" font-size="10" font-weight="bold" font-style="italic" text-anchor="middle" fill="#000">RSAD2</text>
<text transform="translate(57.60,368.30) rotate(-90)" x="0" y="0" font-size="8.6" font-weight="bold" text-anchor="middle" textLength="53" lengthAdjust="spacingAndGlyphs">Fold change</text>
<line x1="107.15" y1="345.60" x2="128.30" y2="345.60" stroke="#000" stroke-width="1.4"/>
<line x1="107.15" y1="343.20" x2="107.15" y2="348.00" stroke="#000" stroke-width="1.2"/>
<line x1="128.30" y1="343.20" x2="128.30" y2="348.00" stroke="#000" stroke-width="1.2"/>
<text x="117.73" y="346.00" font-size="8.5" font-weight="bold" font-style="normal" text-anchor="middle" fill="#000">*</text>
<line x1="227.05" y1="360.50" x2="354.75" y2="360.50" stroke="#333" stroke-width="1.0"/>
<line x1="227.05" y1="378.38" x2="354.75" y2="378.38" stroke="#666" stroke-width="1.3"/>
<line x1="237.65" y1="377.91" x2="237.65" y2="383.15" stroke="#000" stroke-width="1.3"/>
<line x1="233.65" y1="383.15" x2="241.65" y2="383.15" stroke="#000" stroke-width="1.5"/>
<rect x="229.75" y="369.30" width="15.80" height="8.61" fill="#000"/>
<circle cx="230.65" cy="368.90" r="1.05" fill="#000"/><circle cx="244.65" cy="368.90" r="1.05" fill="#000"/>
<line x1="258.80" y1="374.18" x2="258.80" y2="378.62" stroke="#000" stroke-width="1.3"/>
<line x1="254.80" y1="378.62" x2="262.80" y2="378.62" stroke="#000" stroke-width="1.5"/>
<rect x="250.90" y="369.30" width="15.80" height="4.88" fill="#000"/>
<circle cx="251.80" cy="368.90" r="1.05" fill="#000"/><circle cx="265.80" cy="368.90" r="1.05" fill="#000"/>
<line x1="279.95" y1="386.70" x2="279.95" y2="387.06" stroke="#000" stroke-width="1.3"/>
<line x1="275.95" y1="387.06" x2="283.95" y2="387.06" stroke="#000" stroke-width="1.5"/>
<rect x="272.05" y="369.30" width="15.80" height="17.40" fill="#000"/>
<circle cx="272.95" cy="368.90" r="1.05" fill="#000"/><circle cx="286.95" cy="368.90" r="1.05" fill="#000"/>
<line x1="301.10" y1="374.18" x2="301.10" y2="380.58" stroke="#000" stroke-width="1.3"/>
<line x1="297.10" y1="380.58" x2="305.10" y2="380.58" stroke="#000" stroke-width="1.5"/>
<rect x="293.20" y="369.30" width="15.80" height="4.88" fill="#000"/>
<circle cx="294.10" cy="368.90" r="1.05" fill="#000"/><circle cx="308.10" cy="368.90" r="1.05" fill="#000"/>
<line x1="322.25" y1="379.07" x2="322.25" y2="382.35" stroke="#000" stroke-width="1.3"/>
<line x1="318.25" y1="382.35" x2="326.25" y2="382.35" stroke="#000" stroke-width="1.5"/>
<rect x="315.15" y="370.10" width="14.20" height="8.97" fill="#b4b4b4" stroke="#000" stroke-width="1.6"/>
<circle cx="315.25" cy="368.90" r="1.05" fill="#000"/><circle cx="329.25" cy="368.90" r="1.05" fill="#000"/>
<line x1="343.40" y1="382.35" x2="343.40" y2="382.62" stroke="#000" stroke-width="1.3"/>
<line x1="339.40" y1="382.62" x2="347.40" y2="382.62" stroke="#000" stroke-width="1.5"/>
<rect x="336.30" y="370.10" width="14.20" height="12.25" fill="#b4b4b4" stroke="#000" stroke-width="1.6"/>
<circle cx="336.40" cy="368.90" r="1.05" fill="#000"/><circle cx="350.40" cy="368.90" r="1.05" fill="#000"/>
<line x1="227.05" y1="369.40" x2="355.25" y2="369.40" stroke="#000" stroke-width="1.6"/>
<line x1="227.05" y1="315.42" x2="227.05" y2="423.18" stroke="#000" stroke-width="1.5"/>
<line x1="223.45" y1="316.02" x2="227.05" y2="316.02" stroke="#000" stroke-width="1.5"/>
<text x="220.65" y="319.42" font-size="8.2" font-weight="bold" font-style="normal" text-anchor="end" fill="#000">6</text>
<line x1="223.45" y1="333.78" x2="227.05" y2="333.78" stroke="#000" stroke-width="1.5"/>
<text x="220.65" y="337.18" font-size="8.2" font-weight="bold" font-style="normal" text-anchor="end" fill="#000">4</text>
<line x1="223.45" y1="351.54" x2="227.05" y2="351.54" stroke="#000" stroke-width="1.5"/>
<text x="220.65" y="354.94" font-size="8.2" font-weight="bold" font-style="normal" text-anchor="end" fill="#000">2</text>
<line x1="223.45" y1="369.30" x2="227.05" y2="369.30" stroke="#000" stroke-width="1.5"/>
<text x="220.65" y="372.70" font-size="8.2" font-weight="bold" font-style="normal" text-anchor="end" fill="#000">0</text>
<line x1="223.45" y1="387.06" x2="227.05" y2="387.06" stroke="#000" stroke-width="1.5"/>
<text x="220.65" y="390.46" font-size="8.2" font-weight="bold" font-style="normal" text-anchor="end" fill="#000">-2</text>
<line x1="223.45" y1="404.82" x2="227.05" y2="404.82" stroke="#000" stroke-width="1.5"/>
<text x="220.65" y="408.22" font-size="8.2" font-weight="bold" font-style="normal" text-anchor="end" fill="#000">-4</text>
<line x1="223.45" y1="422.58" x2="227.05" y2="422.58" stroke="#000" stroke-width="1.5"/>
<text x="220.65" y="425.98" font-size="8.2" font-weight="bold" font-style="normal" text-anchor="end" fill="#000">-6</text>
<text x="291.25" y="303.02" font-size="10" font-weight="bold" font-style="italic" text-anchor="middle" fill="#000">OAS1</text>
<line x1="375.90" y1="354.50" x2="503.60" y2="354.50" stroke="#333" stroke-width="1.0"/>
<line x1="375.90" y1="369.30" x2="503.60" y2="369.30" stroke="#666" stroke-width="1.3"/>
<line x1="386.50" y1="376.40" x2="386.50" y2="378.37" stroke="#000" stroke-width="1.3"/>
<line x1="382.50" y1="378.37" x2="390.50" y2="378.37" stroke="#000" stroke-width="1.5"/>
<rect x="378.60" y="361.50" width="15.80" height="14.90" fill="#000"/>
<circle cx="379.50" cy="361.10" r="1.05" fill="#000"/><circle cx="393.50" cy="361.10" r="1.05" fill="#000"/>
<line x1="407.65" y1="370.77" x2="407.65" y2="373.89" stroke="#000" stroke-width="1.3"/>
<line x1="403.65" y1="373.89" x2="411.65" y2="373.89" stroke="#000" stroke-width="1.5"/>
<rect x="399.75" y="361.50" width="15.80" height="9.27" fill="#000"/>
<circle cx="400.65" cy="361.10" r="1.05" fill="#000"/><circle cx="414.65" cy="361.10" r="1.05" fill="#000"/>
<line x1="428.80" y1="403.60" x2="428.80" y2="410.37" stroke="#000" stroke-width="1.3"/>
<line x1="424.80" y1="410.37" x2="432.80" y2="410.37" stroke="#000" stroke-width="1.5"/>
<rect x="420.90" y="361.50" width="15.80" height="42.10" fill="#000"/>
<circle cx="421.80" cy="361.10" r="1.05" fill="#000"/><circle cx="435.80" cy="361.10" r="1.05" fill="#000"/>
<line x1="449.95" y1="358.08" x2="449.95" y2="351.39" stroke="#000" stroke-width="1.3"/>
<line x1="445.95" y1="351.39" x2="453.95" y2="351.39" stroke="#000" stroke-width="1.5"/>
<rect x="442.05" y="358.08" width="15.80" height="3.42" fill="#000"/>
<line x1="471.10" y1="365.83" x2="471.10" y2="369.10" stroke="#000" stroke-width="1.3"/>
<line x1="467.10" y1="369.10" x2="475.10" y2="369.10" stroke="#000" stroke-width="1.5"/>
<rect x="464.00" y="362.30" width="14.20" height="3.53" fill="#b4b4b4" stroke="#000" stroke-width="1.6"/>
<circle cx="464.10" cy="361.10" r="1.05" fill="#000"/><circle cx="478.10" cy="361.10" r="1.05" fill="#000"/>
<line x1="492.25" y1="381.87" x2="492.25" y2="386.50" stroke="#000" stroke-width="1.3"/>
<line x1="488.25" y1="386.50" x2="496.25" y2="386.50" stroke="#000" stroke-width="1.5"/>
<rect x="485.15" y="362.30" width="14.20" height="19.57" fill="#b4b4b4" stroke="#000" stroke-width="1.6"/>
<circle cx="485.25" cy="361.10" r="1.05" fill="#000"/><circle cx="499.25" cy="361.10" r="1.05" fill="#000"/>
<line x1="375.90" y1="361.60" x2="504.10" y2="361.60" stroke="#000" stroke-width="1.6"/>
<line x1="375.90" y1="315.30" x2="375.90" y2="422.90" stroke="#000" stroke-width="1.5"/>
<line x1="372.30" y1="315.90" x2="375.90" y2="315.90" stroke="#000" stroke-width="1.5"/>
<text x="369.50" y="319.30" font-size="8.2" font-weight="bold" font-style="normal" text-anchor="end" fill="#000">6</text>
<line x1="372.30" y1="331.10" x2="375.90" y2="331.10" stroke="#000" stroke-width="1.5"/>
<text x="369.50" y="334.50" font-size="8.2" font-weight="bold" font-style="normal" text-anchor="end" fill="#000">4</text>
<line x1="372.30" y1="346.30" x2="375.90" y2="346.30" stroke="#000" stroke-width="1.5"/>
<text x="369.50" y="349.70" font-size="8.2" font-weight="bold" font-style="normal" text-anchor="end" fill="#000">2</text>
<line x1="372.30" y1="361.50" x2="375.90" y2="361.50" stroke="#000" stroke-width="1.5"/>
<text x="369.50" y="364.90" font-size="8.2" font-weight="bold" font-style="normal" text-anchor="end" fill="#000">0</text>
<line x1="372.30" y1="376.70" x2="375.90" y2="376.70" stroke="#000" stroke-width="1.5"/>
<text x="369.50" y="380.10" font-size="8.2" font-weight="bold" font-style="normal" text-anchor="end" fill="#000">-2</text>
<line x1="372.30" y1="391.90" x2="375.90" y2="391.90" stroke="#000" stroke-width="1.5"/>
<text x="369.50" y="395.30" font-size="8.2" font-weight="bold" font-style="normal" text-anchor="end" fill="#000">-4</text>
<line x1="372.30" y1="407.10" x2="375.90" y2="407.10" stroke="#000" stroke-width="1.5"/>
<text x="369.50" y="410.50" font-size="8.2" font-weight="bold" font-style="normal" text-anchor="end" fill="#000">-6</text>
<line x1="372.30" y1="422.30" x2="375.90" y2="422.30" stroke="#000" stroke-width="1.5"/>
<text x="369.50" y="425.70" font-size="8.2" font-weight="bold" font-style="normal" text-anchor="end" fill="#000">-8</text>
<text x="440.10" y="302.90" font-size="10" font-weight="bold" font-style="italic" text-anchor="middle" fill="#000">MX1</text>
<line x1="407.65" y1="345.50" x2="428.80" y2="345.50" stroke="#000" stroke-width="1.4"/>
<line x1="407.65" y1="343.10" x2="407.65" y2="347.90" stroke="#000" stroke-width="1.2"/>
<line x1="428.80" y1="343.10" x2="428.80" y2="347.90" stroke="#000" stroke-width="1.2"/>
<text x="418.22" y="345.00" font-size="8.5" font-weight="bold" font-style="normal" text-anchor="middle" fill="#000">*</text>
<line x1="527.90" y1="333.50" x2="655.60" y2="333.50" stroke="#333" stroke-width="1.0"/>
<line x1="527.90" y1="340.03" x2="655.60" y2="340.03" stroke="#666" stroke-width="1.3"/>
<line x1="538.50" y1="344.29" x2="538.50" y2="344.97" stroke="#000" stroke-width="1.3"/>
<line x1="534.50" y1="344.97" x2="542.50" y2="344.97" stroke="#000" stroke-width="1.5"/>
<rect x="530.60" y="336.40" width="15.80" height="7.89" fill="#000"/>
<circle cx="531.50" cy="336.00" r="1.05" fill="#000"/><circle cx="545.50" cy="336.00" r="1.05" fill="#000"/>
<line x1="559.65" y1="352.52" x2="559.65" y2="358.69" stroke="#000" stroke-width="1.3"/>
<line x1="555.65" y1="358.69" x2="563.65" y2="358.69" stroke="#000" stroke-width="1.5"/>
<rect x="551.75" y="336.40" width="15.80" height="16.12" fill="#000"/>
<circle cx="552.65" cy="336.00" r="1.05" fill="#000"/><circle cx="566.65" cy="336.00" r="1.05" fill="#000"/>
<line x1="580.80" y1="384.76" x2="580.80" y2="406.37" stroke="#000" stroke-width="1.3"/>
<line x1="576.80" y1="406.37" x2="584.80" y2="406.37" stroke="#000" stroke-width="1.5"/>
<rect x="572.90" y="336.40" width="15.80" height="48.36" fill="#000"/>
<circle cx="573.80" cy="336.00" r="1.05" fill="#000"/><circle cx="587.80" cy="336.00" r="1.05" fill="#000"/>
<line x1="601.95" y1="332.97" x2="601.95" y2="330.71" stroke="#000" stroke-width="1.3"/>
<line x1="597.95" y1="330.71" x2="605.95" y2="330.71" stroke="#000" stroke-width="1.5"/>
<line x1="601.95" y1="336.40" x2="601.95" y2="339.66" stroke="#000" stroke-width="1.3"/>
<rect x="594.05" y="332.97" width="15.80" height="3.43" fill="#000"/>
<line x1="623.10" y1="337.91" x2="623.10" y2="339.21" stroke="#000" stroke-width="1.3"/>
<line x1="619.10" y1="339.21" x2="627.10" y2="339.21" stroke="#000" stroke-width="1.5"/>
<rect x="616.00" y="337.20" width="14.20" height="0.71" fill="#b4b4b4" stroke="#000" stroke-width="1.6"/>
<circle cx="616.10" cy="336.00" r="1.05" fill="#000"/><circle cx="630.10" cy="336.00" r="1.05" fill="#000"/>
<line x1="644.25" y1="342.47" x2="644.25" y2="342.57" stroke="#000" stroke-width="1.3"/>
<line x1="640.25" y1="342.57" x2="648.25" y2="342.57" stroke="#000" stroke-width="1.5"/>
<rect x="637.15" y="337.20" width="14.20" height="5.27" fill="#b4b4b4" stroke="#000" stroke-width="1.6"/>
<circle cx="637.25" cy="336.00" r="1.05" fill="#000"/><circle cx="651.25" cy="336.00" r="1.05" fill="#000"/>
<line x1="527.90" y1="336.50" x2="656.10" y2="336.50" stroke="#000" stroke-width="1.6"/>
<line x1="527.90" y1="314.88" x2="527.90" y2="422.75" stroke="#000" stroke-width="1.5"/>
<line x1="524.30" y1="319.25" x2="527.90" y2="319.25" stroke="#000" stroke-width="1.5"/>
<text x="521.50" y="322.65" font-size="8.2" font-weight="bold" font-style="normal" text-anchor="end" fill="#000">5</text>
<line x1="524.30" y1="336.40" x2="527.90" y2="336.40" stroke="#000" stroke-width="1.5"/>
<text x="521.50" y="339.80" font-size="8.2" font-weight="bold" font-style="normal" text-anchor="end" fill="#000">0</text>
<line x1="524.30" y1="353.55" x2="527.90" y2="353.55" stroke="#000" stroke-width="1.5"/>
<text x="521.50" y="356.95" font-size="8.2" font-weight="bold" font-style="normal" text-anchor="end" fill="#000">-5</text>
<line x1="524.30" y1="370.70" x2="527.90" y2="370.70" stroke="#000" stroke-width="1.5"/>
<text x="521.50" y="374.10" font-size="8.2" font-weight="bold" font-style="normal" text-anchor="end" fill="#000">-10</text>
<line x1="524.30" y1="387.85" x2="527.90" y2="387.85" stroke="#000" stroke-width="1.5"/>
<text x="521.50" y="391.25" font-size="8.2" font-weight="bold" font-style="normal" text-anchor="end" fill="#000">-15</text>
<line x1="524.30" y1="405.00" x2="527.90" y2="405.00" stroke="#000" stroke-width="1.5"/>
<text x="521.50" y="408.40" font-size="8.2" font-weight="bold" font-style="normal" text-anchor="end" fill="#000">-20</text>
<line x1="524.30" y1="422.15" x2="527.90" y2="422.15" stroke="#000" stroke-width="1.5"/>
<text x="521.50" y="425.55" font-size="8.2" font-weight="bold" font-style="normal" text-anchor="end" fill="#000">-25</text>
<text x="592.10" y="302.48" font-size="10" font-weight="bold" font-style="italic" text-anchor="middle" fill="#000">IFIT1</text>
<text x="87.80" y="437.70" font-size="9" font-weight="bold" font-style="normal" text-anchor="middle" fill="#000">2</text>
<text x="87.80" y="450.40" font-size="9" font-weight="bold" font-style="normal" text-anchor="middle" fill="#000">3</text>
<text x="108.80" y="437.70" font-size="9" font-weight="bold" font-style="normal" text-anchor="middle" fill="#000">6</text>
<text x="108.80" y="450.40" font-size="9" font-weight="bold" font-style="normal" text-anchor="middle" fill="#000">3</text>
<text x="129.80" y="437.70" font-size="9" font-weight="bold" font-style="normal" text-anchor="middle" fill="#000">14</text>
<text x="129.80" y="450.40" font-size="9" font-weight="bold" font-style="normal" text-anchor="middle" fill="#000">3</text>
<text x="150.80" y="437.70" font-size="9" font-weight="bold" font-style="normal" text-anchor="middle" fill="#000">6</text>
<text x="150.80" y="450.40" font-size="9" font-weight="bold" font-style="normal" text-anchor="middle" fill="#000">3</text>
<text x="171.80" y="437.70" font-size="9" font-weight="bold" font-style="normal" text-anchor="middle" fill="#000">6</text>
<text x="171.80" y="450.40" font-size="9" font-weight="bold" font-style="normal" text-anchor="middle" fill="#000">1</text>
<text x="192.80" y="437.70" font-size="9" font-weight="bold" font-style="normal" text-anchor="middle" fill="#000">14</text>
<text x="192.80" y="450.40" font-size="9" font-weight="bold" font-style="normal" text-anchor="middle" fill="#000">1</text>
<line x1="81.10" y1="456.80" x2="137.30" y2="456.80" stroke="#000" stroke-width="1.6"/>
<line x1="142.90" y1="456.80" x2="203.30" y2="456.80" stroke="#000" stroke-width="1.6"/>
<text x="109.60" y="468.20" font-size="9" font-weight="bold" font-style="normal" text-anchor="middle" fill="#000">HD1</text>
<text x="174.40" y="468.20" font-size="9" font-weight="bold" font-style="normal" text-anchor="middle" fill="#000">HD2</text>
<text x="237.80" y="437.70" font-size="9" font-weight="bold" font-style="normal" text-anchor="middle" fill="#000">2</text>
<text x="237.80" y="450.40" font-size="9" font-weight="bold" font-style="normal" text-anchor="middle" fill="#000">3</text>
<text x="259.13" y="437.70" font-size="9" font-weight="bold" font-style="normal" text-anchor="middle" fill="#000">6</text>
<text x="259.13" y="450.40" font-size="9" font-weight="bold" font-style="normal" text-anchor="middle" fill="#000">3</text>
<text x="280.46" y="437.70" font-size="9" font-weight="bold" font-style="normal" text-anchor="middle" fill="#000">14</text>
<text x="280.46" y="450.40" font-size="9" font-weight="bold" font-style="normal" text-anchor="middle" fill="#000">3</text>
<text x="301.79" y="437.70" font-size="9" font-weight="bold" font-style="normal" text-anchor="middle" fill="#000">6</text>
<text x="301.79" y="450.40" font-size="9" font-weight="bold" font-style="normal" text-anchor="middle" fill="#000">3</text>
<text x="323.12" y="437.70" font-size="9" font-weight="bold" font-style="normal" text-anchor="middle" fill="#000">6</text>
<text x="323.12" y="450.40" font-size="9" font-weight="bold" font-style="normal" text-anchor="middle" fill="#000">1</text>
<text x="344.45" y="437.70" font-size="9" font-weight="bold" font-style="normal" text-anchor="middle" fill="#000">14</text>
<text x="344.45" y="450.40" font-size="9" font-weight="bold" font-style="normal" text-anchor="middle" fill="#000">1</text>
<line x1="230.05" y1="456.80" x2="288.45" y2="456.80" stroke="#000" stroke-width="1.6"/>
<line x1="294.05" y1="456.80" x2="353.35" y2="456.80" stroke="#000" stroke-width="1.6"/>
<text x="260.05" y="468.20" font-size="9" font-weight="bold" font-style="normal" text-anchor="middle" fill="#000">HD1</text>
<text x="325.55" y="468.20" font-size="9" font-weight="bold" font-style="normal" text-anchor="middle" fill="#000">HD2</text>
<text x="387.10" y="437.70" font-size="9" font-weight="bold" font-style="normal" text-anchor="middle" fill="#000">2</text>
<text x="387.10" y="450.40" font-size="9" font-weight="bold" font-style="normal" text-anchor="middle" fill="#000">3</text>
<text x="408.34" y="437.70" font-size="9" font-weight="bold" font-style="normal" text-anchor="middle" fill="#000">6</text>
<text x="408.34" y="450.40" font-size="9" font-weight="bold" font-style="normal" text-anchor="middle" fill="#000">3</text>
<text x="429.58" y="437.70" font-size="9" font-weight="bold" font-style="normal" text-anchor="middle" fill="#000">14</text>
<text x="429.58" y="450.40" font-size="9" font-weight="bold" font-style="normal" text-anchor="middle" fill="#000">3</text>
<text x="450.82" y="437.70" font-size="9" font-weight="bold" font-style="normal" text-anchor="middle" fill="#000">6</text>
<text x="450.82" y="450.40" font-size="9" font-weight="bold" font-style="normal" text-anchor="middle" fill="#000">3</text>
<text x="472.06" y="437.70" font-size="9" font-weight="bold" font-style="normal" text-anchor="middle" fill="#000">6</text>
<text x="472.06" y="450.40" font-size="9" font-weight="bold" font-style="normal" text-anchor="middle" fill="#000">1</text>
<text x="493.30" y="437.70" font-size="9" font-weight="bold" font-style="normal" text-anchor="middle" fill="#000">14</text>
<text x="493.30" y="450.40" font-size="9" font-weight="bold" font-style="normal" text-anchor="middle" fill="#000">1</text>
<line x1="378.90" y1="456.80" x2="437.80" y2="456.80" stroke="#000" stroke-width="1.6"/>
<line x1="443.30" y1="456.80" x2="502.20" y2="456.80" stroke="#000" stroke-width="1.6"/>
<text x="409.10" y="468.20" font-size="9" font-weight="bold" font-style="normal" text-anchor="middle" fill="#000">HD1</text>
<text x="475.60" y="468.20" font-size="9" font-weight="bold" font-style="normal" text-anchor="middle" fill="#000">HD2</text>
<text x="538.50" y="437.70" font-size="9" font-weight="bold" font-style="normal" text-anchor="middle" fill="#000">2</text>
<text x="538.50" y="450.40" font-size="9" font-weight="bold" font-style="normal" text-anchor="middle" fill="#000">3</text>
<text x="559.83" y="437.70" font-size="9" font-weight="bold" font-style="normal" text-anchor="middle" fill="#000">6</text>
<text x="559.83" y="450.40" font-size="9" font-weight="bold" font-style="normal" text-anchor="middle" fill="#000">3</text>
<text x="581.16" y="437.70" font-size="9" font-weight="bold" font-style="normal" text-anchor="middle" fill="#000">14</text>
<text x="581.16" y="450.40" font-size="9" font-weight="bold" font-style="normal" text-anchor="middle" fill="#000">3</text>
<text x="602.49" y="437.70" font-size="9" font-weight="bold" font-style="normal" text-anchor="middle" fill="#000">6</text>
<text x="602.49" y="450.40" font-size="9" font-weight="bold" font-style="normal" text-anchor="middle" fill="#000">3</text>
<text x="623.82" y="437.70" font-size="9" font-weight="bold" font-style="normal" text-anchor="middle" fill="#000">6</text>
<text x="623.82" y="450.40" font-size="9" font-weight="bold" font-style="normal" text-anchor="middle" fill="#000">1</text>
<text x="645.15" y="437.70" font-size="9" font-weight="bold" font-style="normal" text-anchor="middle" fill="#000">14</text>
<text x="645.15" y="450.40" font-size="9" font-weight="bold" font-style="normal" text-anchor="middle" fill="#000">1</text>
<line x1="530.20" y1="456.80" x2="588.90" y2="456.80" stroke="#000" stroke-width="1.6"/>
<line x1="595.20" y1="456.80" x2="653.60" y2="456.80" stroke="#000" stroke-width="1.6"/>
<text x="560.80" y="468.20" font-size="9" font-weight="bold" font-style="normal" text-anchor="middle" fill="#000">HD1</text>
<text x="627.40" y="468.20" font-size="9" font-weight="bold" font-style="normal" text-anchor="middle" fill="#000">HD2</text>
<text x="75.80" y="437.30" font-size="9" font-weight="bold" font-style="normal" text-anchor="end" fill="#000">Weeks p.i.</text>
<text x="75.30" y="450.00" font-size="9" font-weight="bold" font-style="normal" text-anchor="end" fill="#000">HEV genotype</text>
<text x="2.00" y="466.10" font-size="9" font-weight="bold" font-style="normal" text-anchor="start" fill="#000">Hepatocyte donor</text>
<line x1="138.40" y1="495.20" x2="138.40" y2="720.50" stroke="#333" stroke-width="1.1"/>
<line x1="13.50" y1="607.40" x2="265.00" y2="607.40" stroke="#333" stroke-width="1.1"/>
<text x="142.00" y="502.70" font-size="8.8" font-weight="normal" font-style="normal" text-anchor="start" fill="#000" textLength="23" lengthAdjust="spacingAndGlyphs">y-axis</text>
<text x="238.40" y="605.10" font-size="8.8" font-weight="normal" font-style="normal" text-anchor="start" fill="#000" textLength="23" lengthAdjust="spacingAndGlyphs">x-axis</text>
<rect x="83.90" y="522.70" width="4.00" height="4.00" fill="#b020c8"/>
<rect x="91.00" y="522.90" width="4.00" height="4.00" fill="#e81818"/>
<rect x="94.30" y="521.10" width="4.00" height="4.00" fill="#b020c8"/>
<rect x="98.30" y="526.90" width="4.00" height="4.00" fill="#22e83a"/>
<rect x="110.90" y="566.70" width="4.00" height="4.00" fill="#22e83a"/>
<rect x="60.00" y="586.30" width="4.00" height="4.00" fill="#c8c21e"/>
<rect x="116.30" y="589.60" width="4.00" height="4.00" fill="#22e83a"/>
<rect x="122.90" y="597.30" width="4.00" height="4.00" fill="#b020c8"/>
<rect x="113.30" y="600.00" width="4.00" height="4.00" fill="#b020c8"/>
<rect x="97.70" y="601.60" width="4.00" height="4.00" fill="#c8c21e"/>
<rect x="102.30" y="606.90" width="4.00" height="4.00" fill="#1018d8"/>
<rect x="106.90" y="617.70" width="4.00" height="4.00" fill="#22e83a"/>
<rect x="56.00" y="661.00" width="4.00" height="4.00" fill="#1018d8"/>
<rect x="76.00" y="659.60" width="4.00" height="4.00" fill="#e81818"/>
<rect x="44.40" y="681.90" width="4.00" height="4.00" fill="#1018d8"/>
<rect x="38.40" y="690.20" width="4.00" height="4.00" fill="#1018d8"/>
<rect x="7.50" y="725.60" width="2.90" height="2.90" fill="#1018d8"/>
<text x="14.30" y="730.00" font-size="10" font-weight="normal" font-style="normal" text-anchor="start" fill="#000">HEV2</text>
<rect x="61.30" y="725.60" width="2.90" height="2.90" fill="#b020c8"/>
<text x="67.50" y="730.00" font-size="10" font-weight="normal" font-style="normal" text-anchor="start" fill="#000" textLength="79.7" lengthAdjust="spacingAndGlyphs">HEV6 (HEV0122)</text>
<rect x="162.90" y="725.60" width="2.90" height="2.90" fill="#22e83a"/>
<text x="169.30" y="730.00" font-size="10" font-weight="normal" font-style="normal" text-anchor="start" fill="#000" textLength="47.4" lengthAdjust="spacingAndGlyphs">Uninfected</text>
<rect x="7.50" y="738.20" width="2.90" height="2.90" fill="#c8c21e"/>
<text x="14.30" y="742.60" font-size="10" font-weight="normal" font-style="normal" text-anchor="start" fill="#000">HEV14</text>
<rect x="61.30" y="738.20" width="2.90" height="2.90" fill="#e81818"/>
<text x="67.50" y="742.60" font-size="10" font-weight="normal" font-style="normal" text-anchor="start" fill="#000" textLength="79.7" lengthAdjust="spacingAndGlyphs">HEV6 (HEV0069)</text>
<text x="278.00" y="513.60" font-size="10" font-weight="normal" font-style="normal" text-anchor="start" fill="#000" textLength="147.8" lengthAdjust="spacingAndGlyphs">Interferon signaling and response</text>
<defs><linearGradient id="jet" x1="0" x2="1" y1="0" y2="0"><stop offset="0" stop-color="#0c0c94"/><stop offset="0.103" stop-color="#0c0c94"/><stop offset="0.11" stop-color="#1040e0"/><stop offset="0.26" stop-color="#0a80f0"/><stop offset="0.38" stop-color="#08c0f0"/><stop offset="0.49" stop-color="#10e8b0"/><stop offset="0.55" stop-color="#20f070"/><stop offset="0.59" stop-color="#40f040"/><stop offset="0.70" stop-color="#a0e020"/><stop offset="0.79" stop-color="#e0c000"/><stop offset="0.87" stop-color="#f09000"/><stop offset="0.93" stop-color="#f04000"/><stop offset="1" stop-color="#ff1010"/></linearGradient></defs>
<rect x="476.20" y="514.10" width="156.40" height="5.60" fill="url(#jet)"/>
<text x="474.60" y="519.60" font-size="9" font-weight="bold" font-style="normal" text-anchor="end" fill="#000">-5</text>
<text x="636.00" y="519.60" font-size="9" font-weight="bold" font-style="normal" text-anchor="start" fill="#000">+5</text>
<rect x="272.00" y="524.40" width="30.38" height="9.54" fill="#26f45c"/>
<rect x="302.38" y="524.40" width="30.38" height="9.54" fill="#26f45c"/>
<rect x="332.77" y="524.40" width="30.38" height="9.54" fill="#c8d20e"/>
<rect x="363.15" y="524.40" width="30.38" height="9.54" fill="#26f45c"/>
<rect x="393.53" y="524.40" width="30.38" height="9.54" fill="#26f45c"/>
<rect x="423.92" y="524.40" width="30.38" height="9.54" fill="#8cec28"/>
<rect x="454.30" y="524.40" width="30.38" height="9.54" fill="#66f03a"/>
<rect x="484.68" y="524.40" width="30.38" height="9.54" fill="#66f03a"/>
<rect x="515.07" y="524.40" width="30.38" height="9.54" fill="#18c6e4"/>
<rect x="545.45" y="524.40" width="30.38" height="9.54" fill="#c6da10"/>
<rect x="575.83" y="524.40" width="30.38" height="9.54" fill="#26f45c"/>
<rect x="606.22" y="524.40" width="30.38" height="9.54" fill="#eeae12"/>
<text x="639.20" y="530.90" font-size="8.6" font-weight="bold" font-style="normal" text-anchor="start" fill="#000">ADA</text>
<rect x="272.00" y="533.94" width="30.38" height="9.54" fill="#1cb6ec"/>
<rect x="302.38" y="533.94" width="30.38" height="9.54" fill="#18c6e4"/>
<rect x="332.77" y="533.94" width="30.38" height="9.54" fill="#18c6e4"/>
<rect x="363.15" y="533.94" width="30.38" height="9.54" fill="#18c6e4"/>
<rect x="393.53" y="533.94" width="30.38" height="9.54" fill="#18c6e4"/>
<rect x="423.92" y="533.94" width="30.38" height="9.54" fill="#18c6e4"/>
<rect x="454.30" y="533.94" width="30.38" height="9.54" fill="#18c6e4"/>
<rect x="484.68" y="533.94" width="30.38" height="9.54" fill="#18c6e4"/>
<rect x="515.07" y="533.94" width="30.38" height="9.54" fill="#18c6e4"/>
<rect x="545.45" y="533.94" width="30.38" height="9.54" fill="#18c6e4"/>
<rect x="575.83" y="533.94" width="30.38" height="9.54" fill="#1aa2f2"/>
<rect x="606.22" y="533.94" width="30.38" height="9.54" fill="#1aa2f2"/>
<text x="639.20" y="540.61" font-size="8.6" font-weight="bold" font-style="normal" text-anchor="start" fill="#000">BST2</text>
<rect x="272.00" y="543.48" width="30.38" height="9.54" fill="#26f45c"/>
<rect x="302.38" y="543.48" width="30.38" height="9.54" fill="#26f45c"/>
<rect x="332.77" y="543.48" width="30.38" height="9.54" fill="#18c6e4"/>
<rect x="363.15" y="543.48" width="30.38" height="9.54" fill="#1aa2f2"/>
<rect x="393.53" y="543.48" width="30.38" height="9.54" fill="#26f45c"/>
<rect x="423.92" y="543.48" width="30.38" height="9.54" fill="#18c6e4"/>
<rect x="454.30" y="543.48" width="30.38" height="9.54" fill="#26f45c"/>
<rect x="484.68" y="543.48" width="30.38" height="9.54" fill="#26f45c"/>
<rect x="515.07" y="543.48" width="30.38" height="9.54" fill="#1aa2f2"/>
<rect x="545.45" y="543.48" width="30.38" height="9.54" fill="#26f45c"/>
<rect x="575.83" y="543.48" width="30.38" height="9.54" fill="#1aa2f2"/>
<rect x="606.22" y="543.48" width="30.38" height="9.54" fill="#18c6e4"/>
<text x="639.20" y="550.32" font-size="8.6" font-weight="bold" font-style="normal" text-anchor="start" fill="#000">CXCL10</text>
<rect x="272.00" y="553.02" width="30.38" height="9.54" fill="#26f45c"/>
<rect x="302.38" y="553.02" width="30.38" height="9.54" fill="#26f45c"/>
<rect x="332.77" y="553.02" width="30.38" height="9.54" fill="#8cec28"/>
<rect x="363.15" y="553.02" width="30.38" height="9.54" fill="#26f45c"/>
<rect x="393.53" y="553.02" width="30.38" height="9.54" fill="#26f45c"/>
<rect x="423.92" y="553.02" width="30.38" height="9.54" fill="#18c6e4"/>
<rect x="454.30" y="553.02" width="30.38" height="9.54" fill="#8cec28"/>
<rect x="484.68" y="553.02" width="30.38" height="9.54" fill="#26f45c"/>
<rect x="515.07" y="553.02" width="30.38" height="9.54" fill="#18c6e4"/>
<rect x="545.45" y="553.02" width="30.38" height="9.54" fill="#26f45c"/>
<rect x="575.83" y="553.02" width="30.38" height="9.54" fill="#26f45c"/>
<rect x="606.22" y="553.02" width="30.38" height="9.54" fill="#26f45c"/>
<text x="639.20" y="560.03" font-size="8.6" font-weight="bold" font-style="normal" text-anchor="start" fill="#000">CXCL9</text>
<rect x="272.00" y="562.56" width="30.38" height="9.54" fill="#1aa2f2"/>
<rect x="302.38" y="562.56" width="30.38" height="9.54" fill="#18c6e4"/>
<rect x="332.77" y="562.56" width="30.38" height="9.54" fill="#18c6e4"/>
<rect x="363.15" y="562.56" width="30.38" height="9.54" fill="#1aa2f2"/>
<rect x="393.53" y="562.56" width="30.38" height="9.54" fill="#1aa2f2"/>
<rect x="423.92" y="562.56" width="30.38" height="9.54" fill="#1cb6ec"/>
<rect x="454.30" y="562.56" width="30.38" height="9.54" fill="#18c6e4"/>
<rect x="484.68" y="562.56" width="30.38" height="9.54" fill="#18c6e4"/>
<rect x="515.07" y="562.56" width="30.38" height="9.54" fill="#18c6e4"/>
<rect x="545.45" y="562.56" width="30.38" height="9.54" fill="#18c6e4"/>
<rect x="575.83" y="562.56" width="30.38" height="9.54" fill="#1aa2f2"/>
<rect x="606.22" y="562.56" width="30.38" height="9.54" fill="#1cb6ec"/>
<text x="639.20" y="569.74" font-size="8.6" font-weight="bold" font-style="normal" text-anchor="start" fill="#000">GBP1</text>
<rect x="272.00" y="572.09" width="30.38" height="9.54" fill="#26f45c"/>
<rect x="302.38" y="572.09" width="30.38" height="9.54" fill="#26f45c"/>
<rect x="332.77" y="572.09" width="30.38" height="9.54" fill="#26f45c"/>
<rect x="363.15" y="572.09" width="30.38" height="9.54" fill="#26f45c"/>
<rect x="393.53" y="572.09" width="30.38" height="9.54" fill="#18c6e4"/>
<rect x="423.92" y="572.09" width="30.38" height="9.54" fill="#18c6e4"/>
<rect x="454.30" y="572.09" width="30.38" height="9.54" fill="#18c6e4"/>
<rect x="484.68" y="572.09" width="30.38" height="9.54" fill="#18c6e4"/>
<rect x="515.07" y="572.09" width="30.38" height="9.54" fill="#18c6e4"/>
<rect x="545.45" y="572.09" width="30.38" height="9.54" fill="#18c6e4"/>
<rect x="575.83" y="572.09" width="30.38" height="9.54" fill="#18c6e4"/>
<rect x="606.22" y="572.09" width="30.38" height="9.54" fill="#18c6e4"/>
<text x="639.20" y="579.45" font-size="8.6" font-weight="bold" font-style="normal" text-anchor="start" fill="#000">IFI35</text>
<rect x="272.00" y="581.63" width="30.38" height="9.54" fill="#26f45c"/>
<rect x="302.38" y="581.63" width="30.38" height="9.54" fill="#26f45c"/>
<rect x="332.77" y="581.63" width="30.38" height="9.54" fill="#18c6e4"/>
<rect x="363.15" y="581.63" width="30.38" height="9.54" fill="#18c6e4"/>
<rect x="393.53" y="581.63" width="30.38" height="9.54" fill="#18c6e4"/>
<rect x="423.92" y="581.63" width="30.38" height="9.54" fill="#26f45c"/>
<rect x="454.30" y="581.63" width="30.38" height="9.54" fill="#18c6e4"/>
<rect x="484.68" y="581.63" width="30.38" height="9.54" fill="#18c6e4"/>
<rect x="515.07" y="581.63" width="30.38" height="9.54" fill="#18c6e4"/>
<rect x="545.45" y="581.63" width="30.38" height="9.54" fill="#18c6e4"/>
<rect x="575.83" y="581.63" width="30.38" height="9.54" fill="#18c6e4"/>
<rect x="606.22" y="581.63" width="30.38" height="9.54" fill="#1cb6ec"/>
<text x="639.20" y="589.16" font-size="8.6" font-weight="bold" font-style="normal" text-anchor="start" fill="#000">IFIH1</text>
<rect x="272.00" y="591.17" width="30.38" height="9.54" fill="#18c6e4"/>
<rect x="302.38" y="591.17" width="30.38" height="9.54" fill="#26f45c"/>
<rect x="332.77" y="591.17" width="30.38" height="9.54" fill="#18c6e4"/>
<rect x="363.15" y="591.17" width="30.38" height="9.54" fill="#18c6e4"/>
<rect x="393.53" y="591.17" width="30.38" height="9.54" fill="#18c6e4"/>
<rect x="423.92" y="591.17" width="30.38" height="9.54" fill="#26f45c"/>
<rect x="454.30" y="591.17" width="30.38" height="9.54" fill="#18c6e4"/>
<rect x="484.68" y="591.17" width="30.38" height="9.54" fill="#18c6e4"/>
<rect x="515.07" y="591.17" width="30.38" height="9.54" fill="#18c6e4"/>
<rect x="545.45" y="591.17" width="30.38" height="9.54" fill="#18c6e4"/>
<rect x="575.83" y="591.17" width="30.38" height="9.54" fill="#26f45c"/>
<rect x="606.22" y="591.17" width="30.38" height="9.54" fill="#1aa2f2"/>
<text x="639.20" y="598.87" font-size="8.6" font-weight="bold" font-style="normal" text-anchor="start" fill="#000">IFIT2</text>
<rect x="272.00" y="600.71" width="30.38" height="9.54" fill="#26f45c"/>
<rect x="302.38" y="600.71" width="30.38" height="9.54" fill="#26f45c"/>
<rect x="332.77" y="600.71" width="30.38" height="9.54" fill="#26f45c"/>
<rect x="363.15" y="600.71" width="30.38" height="9.54" fill="#26f45c"/>
<rect x="393.53" y="600.71" width="30.38" height="9.54" fill="#26f45c"/>
<rect x="423.92" y="600.71" width="30.38" height="9.54" fill="#c8d20e"/>
<rect x="454.30" y="600.71" width="30.38" height="9.54" fill="#26f45c"/>
<rect x="484.68" y="600.71" width="30.38" height="9.54" fill="#c8d20e"/>
<rect x="515.07" y="600.71" width="30.38" height="9.54" fill="#f49c0a"/>
<rect x="545.45" y="600.71" width="30.38" height="9.54" fill="#26f45c"/>
<rect x="575.83" y="600.71" width="30.38" height="9.54" fill="#26f45c"/>
<rect x="606.22" y="600.71" width="30.38" height="9.54" fill="#ff1212"/>
<text x="639.20" y="608.58" font-size="8.6" font-weight="bold" font-style="normal" text-anchor="start" fill="#000">IFITM1</text>
<rect x="272.00" y="610.25" width="30.38" height="9.54" fill="#26f45c"/>
<rect x="302.38" y="610.25" width="30.38" height="9.54" fill="#26f45c"/>
<rect x="332.77" y="610.25" width="30.38" height="9.54" fill="#18c6e4"/>
<rect x="363.15" y="610.25" width="30.38" height="9.54" fill="#26f45c"/>
<rect x="393.53" y="610.25" width="30.38" height="9.54" fill="#26f45c"/>
<rect x="423.92" y="610.25" width="30.38" height="9.54" fill="#18c6e4"/>
<rect x="454.30" y="610.25" width="30.38" height="9.54" fill="#26f45c"/>
<rect x="484.68" y="610.25" width="30.38" height="9.54" fill="#26f45c"/>
<rect x="515.07" y="610.25" width="30.38" height="9.54" fill="#18c6e4"/>
<rect x="545.45" y="610.25" width="30.38" height="9.54" fill="#26f45c"/>
<rect x="575.83" y="610.25" width="30.38" height="9.54" fill="#40f24c"/>
<rect x="606.22" y="610.25" width="30.38" height="9.54" fill="#40f24c"/>
<text x="639.20" y="618.29" font-size="8.6" font-weight="bold" font-style="normal" text-anchor="start" fill="#000">IFNAR1</text>
<rect x="272.00" y="619.79" width="30.38" height="9.54" fill="#26f45c"/>
<rect x="302.38" y="619.79" width="30.38" height="9.54" fill="#26f45c"/>
<rect x="332.77" y="619.79" width="30.38" height="9.54" fill="#18c6e4"/>
<rect x="363.15" y="619.79" width="30.38" height="9.54" fill="#18c6e4"/>
<rect x="393.53" y="619.79" width="30.38" height="9.54" fill="#18c6e4"/>
<rect x="423.92" y="619.79" width="30.38" height="9.54" fill="#18c6e4"/>
<rect x="454.30" y="619.79" width="30.38" height="9.54" fill="#18c6e4"/>
<rect x="484.68" y="619.79" width="30.38" height="9.54" fill="#18c6e4"/>
<rect x="515.07" y="619.79" width="30.38" height="9.54" fill="#18c6e4"/>
<rect x="545.45" y="619.79" width="30.38" height="9.54" fill="#18c6e4"/>
<rect x="575.83" y="619.79" width="30.38" height="9.54" fill="#18c6e4"/>
<rect x="606.22" y="619.79" width="30.38" height="9.54" fill="#18c6e4"/>
<text x="639.20" y="628.00" font-size="8.6" font-weight="bold" font-style="normal" text-anchor="start" fill="#000">IFNAR2</text>
<rect x="272.00" y="629.33" width="30.38" height="9.54" fill="#26f45c"/>
<rect x="302.38" y="629.33" width="30.38" height="9.54" fill="#26f45c"/>
<rect x="332.77" y="629.33" width="30.38" height="9.54" fill="#66f03a"/>
<rect x="363.15" y="629.33" width="30.38" height="9.54" fill="#26f45c"/>
<rect x="393.53" y="629.33" width="30.38" height="9.54" fill="#26f45c"/>
<rect x="423.92" y="629.33" width="30.38" height="9.54" fill="#26f45c"/>
<rect x="454.30" y="629.33" width="30.38" height="9.54" fill="#26f45c"/>
<rect x="484.68" y="629.33" width="30.38" height="9.54" fill="#26f45c"/>
<rect x="515.07" y="629.33" width="30.38" height="9.54" fill="#18c6e4"/>
<rect x="545.45" y="629.33" width="30.38" height="9.54" fill="#18c6e4"/>
<rect x="575.83" y="629.33" width="30.38" height="9.54" fill="#26f45c"/>
<rect x="606.22" y="629.33" width="30.38" height="9.54" fill="#26f45c"/>
<text x="639.20" y="637.71" font-size="8.6" font-weight="bold" font-style="normal" text-anchor="start" fill="#000">IRF3</text>
<rect x="272.00" y="638.87" width="30.38" height="9.54" fill="#26f45c"/>
<rect x="302.38" y="638.87" width="30.38" height="9.54" fill="#26f45c"/>
<rect x="332.77" y="638.87" width="30.38" height="9.54" fill="#18c6e4"/>
<rect x="363.15" y="638.87" width="30.38" height="9.54" fill="#b0e214"/>
<rect x="393.53" y="638.87" width="30.38" height="9.54" fill="#26f45c"/>
<rect x="423.92" y="638.87" width="30.38" height="9.54" fill="#18c6e4"/>
<rect x="454.30" y="638.87" width="30.38" height="9.54" fill="#18c6e4"/>
<rect x="484.68" y="638.87" width="30.38" height="9.54" fill="#26f45c"/>
<rect x="515.07" y="638.87" width="30.38" height="9.54" fill="#18c6e4"/>
<rect x="545.45" y="638.87" width="30.38" height="9.54" fill="#26f45c"/>
<rect x="575.83" y="638.87" width="30.38" height="9.54" fill="#40f24c"/>
<rect x="606.22" y="638.87" width="30.38" height="9.54" fill="#26f45c"/>
<text x="639.20" y="647.42" font-size="8.6" font-weight="bold" font-style="normal" text-anchor="start" fill="#000">IRF5</text>
<rect x="272.00" y="648.41" width="30.38" height="9.54" fill="#18c6e4"/>
<rect x="302.38" y="648.41" width="30.38" height="9.54" fill="#26f45c"/>
<rect x="332.77" y="648.41" width="30.38" height="9.54" fill="#18c6e4"/>
<rect x="363.15" y="648.41" width="30.38" height="9.54" fill="#26f45c"/>
<rect x="393.53" y="648.41" width="30.38" height="9.54" fill="#18c6e4"/>
<rect x="423.92" y="648.41" width="30.38" height="9.54" fill="#26f45c"/>
<rect x="454.30" y="648.41" width="30.38" height="9.54" fill="#26f45c"/>
<rect x="484.68" y="648.41" width="30.38" height="9.54" fill="#18c6e4"/>
<rect x="515.07" y="648.41" width="30.38" height="9.54" fill="#26f45c"/>
<rect x="545.45" y="648.41" width="30.38" height="9.54" fill="#18c6e4"/>
<rect x="575.83" y="648.41" width="30.38" height="9.54" fill="#18c6e4"/>
<rect x="606.22" y="648.41" width="30.38" height="9.54" fill="#1aa2f2"/>
<text x="639.20" y="657.13" font-size="8.6" font-weight="bold" font-style="normal" text-anchor="start" fill="#000">IRF7</text>
<rect x="272.00" y="657.94" width="30.38" height="9.54" fill="#1aa2f2"/>
<rect x="302.38" y="657.94" width="30.38" height="9.54" fill="#18c6e4"/>
<rect x="332.77" y="657.94" width="30.38" height="9.54" fill="#1cb6ec"/>
<rect x="363.15" y="657.94" width="30.38" height="9.54" fill="#1258ea"/>
<rect x="393.53" y="657.94" width="30.38" height="9.54" fill="#18c6e4"/>
<rect x="423.92" y="657.94" width="30.38" height="9.54" fill="#18c6e4"/>
<rect x="454.30" y="657.94" width="30.38" height="9.54" fill="#1cb6ec"/>
<rect x="484.68" y="657.94" width="30.38" height="9.54" fill="#1cb6ec"/>
<rect x="515.07" y="657.94" width="30.38" height="9.54" fill="#18c6e4"/>
<rect x="545.45" y="657.94" width="30.38" height="9.54" fill="#1aa2f2"/>
<rect x="575.83" y="657.94" width="30.38" height="9.54" fill="#000000"/>
<rect x="606.22" y="657.94" width="30.38" height="9.54" fill="#000000"/>
<text x="639.20" y="666.84" font-size="8.6" font-weight="bold" font-style="normal" text-anchor="start" fill="#000">MX1</text>
<rect x="272.00" y="667.48" width="30.38" height="9.54" fill="#26f45c"/>
<rect x="302.38" y="667.48" width="30.38" height="9.54" fill="#26f45c"/>
<rect x="332.77" y="667.48" width="30.38" height="9.54" fill="#18c6e4"/>
<rect x="363.15" y="667.48" width="30.38" height="9.54" fill="#66f03a"/>
<rect x="393.53" y="667.48" width="30.38" height="9.54" fill="#26f45c"/>
<rect x="423.92" y="667.48" width="30.38" height="9.54" fill="#26f45c"/>
<rect x="454.30" y="667.48" width="30.38" height="9.54" fill="#26f45c"/>
<rect x="484.68" y="667.48" width="30.38" height="9.54" fill="#18c6e4"/>
<rect x="515.07" y="667.48" width="30.38" height="9.54" fill="#18c6e4"/>
<rect x="545.45" y="667.48" width="30.38" height="9.54" fill="#18c6e4"/>
<rect x="575.83" y="667.48" width="30.38" height="9.54" fill="#18c6e4"/>
<rect x="606.22" y="667.48" width="30.38" height="9.54" fill="#26f45c"/>
<text x="639.20" y="676.55" font-size="8.6" font-weight="bold" font-style="normal" text-anchor="start" fill="#000">PML</text>
<rect x="272.00" y="677.02" width="30.38" height="9.54" fill="#1aa2f2"/>
<rect x="302.38" y="677.02" width="30.38" height="9.54" fill="#18c6e4"/>
<rect x="332.77" y="677.02" width="30.38" height="9.54" fill="#18c6e4"/>
<rect x="363.15" y="677.02" width="30.38" height="9.54" fill="#1aa2f2"/>
<rect x="393.53" y="677.02" width="30.38" height="9.54" fill="#18c6e4"/>
<rect x="423.92" y="677.02" width="30.38" height="9.54" fill="#18c6e4"/>
<rect x="454.30" y="677.02" width="30.38" height="9.54" fill="#18c6e4"/>
<rect x="484.68" y="677.02" width="30.38" height="9.54" fill="#18c6e4"/>
<rect x="515.07" y="677.02" width="30.38" height="9.54" fill="#18c6e4"/>
<rect x="545.45" y="677.02" width="30.38" height="9.54" fill="#18c6e4"/>
<rect x="575.83" y="677.02" width="30.38" height="9.54" fill="#1aa2f2"/>
<rect x="606.22" y="677.02" width="30.38" height="9.54" fill="#1aa2f2"/>
<text x="639.20" y="686.26" font-size="8.6" font-weight="bold" font-style="normal" text-anchor="start" fill="#000">STAT1</text>
<rect x="272.00" y="686.56" width="30.38" height="9.54" fill="#26f45c"/>
<rect x="302.38" y="686.56" width="30.38" height="9.54" fill="#18c6e4"/>
<rect x="332.77" y="686.56" width="30.38" height="9.54" fill="#18c6e4"/>
<rect x="363.15" y="686.56" width="30.38" height="9.54" fill="#18c6e4"/>
<rect x="393.53" y="686.56" width="30.38" height="9.54" fill="#18c6e4"/>
<rect x="423.92" y="686.56" width="30.38" height="9.54" fill="#18c6e4"/>
<rect x="454.30" y="686.56" width="30.38" height="9.54" fill="#18c6e4"/>
<rect x="484.68" y="686.56" width="30.38" height="9.54" fill="#26f45c"/>
<rect x="515.07" y="686.56" width="30.38" height="9.54" fill="#18c6e4"/>
<rect x="545.45" y="686.56" width="30.38" height="9.54" fill="#18c6e4"/>
<rect x="575.83" y="686.56" width="30.38" height="9.54" fill="#18c6e4"/>
<rect x="606.22" y="686.56" width="30.38" height="9.54" fill="#1cb6ec"/>
<text x="639.20" y="695.97" font-size="8.6" font-weight="bold" font-style="normal" text-anchor="start" fill="#000">STAT2</text>
<line x1="302.38" y1="524.40" x2="302.38" y2="696.10" stroke="#0a1a1a" stroke-width="1.0"/>
<line x1="332.77" y1="524.40" x2="332.77" y2="696.10" stroke="#0a1a1a" stroke-width="1.0"/>
<line x1="363.15" y1="524.40" x2="363.15" y2="696.10" stroke="#0a1a1a" stroke-width="1.0"/>
<line x1="393.53" y1="524.40" x2="393.53" y2="696.10" stroke="#0a1a1a" stroke-width="1.0"/>
<line x1="423.92" y1="524.40" x2="423.92" y2="696.10" stroke="#0a1a1a" stroke-width="1.0"/>
<line x1="454.30" y1="524.40" x2="454.30" y2="696.10" stroke="#0a1a1a" stroke-width="1.0"/>
<line x1="484.68" y1="524.40" x2="484.68" y2="696.10" stroke="#0a1a1a" stroke-width="1.0"/>
<line x1="515.07" y1="524.40" x2="515.07" y2="696.10" stroke="#0a1a1a" stroke-width="1.0"/>
<line x1="545.45" y1="524.40" x2="545.45" y2="696.10" stroke="#0a1a1a" stroke-width="1.0"/>
<line x1="575.83" y1="524.40" x2="575.83" y2="696.10" stroke="#0a1a1a" stroke-width="1.0"/>
<line x1="606.22" y1="524.40" x2="606.22" y2="696.10" stroke="#0a1a1a" stroke-width="1.0"/>
<line x1="272.00" y1="524.40" x2="636.60" y2="524.40" stroke="#0a1a1a" stroke-width="1.0"/>
<line x1="272.00" y1="533.94" x2="636.60" y2="533.94" stroke="#0a1a1a" stroke-width="1.0"/>
<line x1="272.00" y1="543.48" x2="636.60" y2="543.48" stroke="#0a1a1a" stroke-width="1.0"/>
<line x1="272.00" y1="553.02" x2="636.60" y2="553.02" stroke="#0a1a1a" stroke-width="1.0"/>
<line x1="272.00" y1="562.56" x2="636.60" y2="562.56" stroke="#0a1a1a" stroke-width="1.0"/>
<line x1="272.00" y1="572.09" x2="636.60" y2="572.09" stroke="#0a1a1a" stroke-width="1.0"/>
<line x1="272.00" y1="581.63" x2="636.60" y2="581.63" stroke="#0a1a1a" stroke-width="1.0"/>
<line x1="272.00" y1="591.17" x2="636.60" y2="591.17" stroke="#0a1a1a" stroke-width="1.0"/>
<line x1="272.00" y1="600.71" x2="636.60" y2="600.71" stroke="#0a1a1a" stroke-width="1.0"/>
<line x1="272.00" y1="610.25" x2="636.60" y2="610.25" stroke="#0a1a1a" stroke-width="1.0"/>
<line x1="272.00" y1="619.79" x2="636.60" y2="619.79" stroke="#0a1a1a" stroke-width="1.0"/>
<line x1="272.00" y1="629.33" x2="636.60" y2="629.33" stroke="#0a1a1a" stroke-width="1.0"/>
<line x1="272.00" y1="638.87" x2="636.60" y2="638.87" stroke="#0a1a1a" stroke-width="1.0"/>
<line x1="272.00" y1="648.41" x2="636.60" y2="648.41" stroke="#0a1a1a" stroke-width="1.0"/>
<line x1="272.00" y1="657.94" x2="636.60" y2="657.94" stroke="#0a1a1a" stroke-width="1.0"/>
<line x1="272.00" y1="667.48" x2="636.60" y2="667.48" stroke="#0a1a1a" stroke-width="1.0"/>
<line x1="272.00" y1="677.02" x2="636.60" y2="677.02" stroke="#0a1a1a" stroke-width="1.0"/>
<line x1="272.00" y1="686.56" x2="636.60" y2="686.56" stroke="#0a1a1a" stroke-width="1.0"/>
<line x1="272.00" y1="696.10" x2="636.60" y2="696.10" stroke="#0a1a1a" stroke-width="1.0"/>
<line x1="272.30" y1="701.00" x2="388.60" y2="701.00" stroke="#000" stroke-width="2.0"/>
<line x1="395.20" y1="701.00" x2="571.40" y2="701.00" stroke="#000" stroke-width="2.0"/>
<line x1="578.90" y1="701.00" x2="637.00" y2="701.00" stroke="#000" stroke-width="2.0"/>
<text x="331.70" y="710.80" font-size="9" font-weight="normal" font-style="normal" text-anchor="middle" fill="#000" textLength="30.9" lengthAdjust="spacingAndGlyphs">Week 2</text>
<text x="486.20" y="710.80" font-size="9" font-weight="normal" font-style="normal" text-anchor="middle" fill="#000">Week 6</text>
<text x="605.50" y="710.80" font-size="9" font-weight="normal" font-style="normal" text-anchor="middle" fill="#000">Week 14</text>
<line x1="272.30" y1="718.60" x2="451.00" y2="718.60" stroke="#000" stroke-width="2.0"/>
<line x1="455.20" y1="718.60" x2="568.00" y2="718.60" stroke="#000" stroke-width="2.0"/>
<line x1="578.90" y1="718.60" x2="637.00" y2="718.60" stroke="#000" stroke-width="2.0"/>
<text x="359.50" y="728.20" font-size="9" font-weight="normal" font-style="normal" text-anchor="middle" fill="#000" textLength="39.7" lengthAdjust="spacingAndGlyphs">HEV0069</text>
<text x="515.50" y="728.20" font-size="9" font-weight="normal" font-style="normal" text-anchor="middle" fill="#000" textLength="39.7" lengthAdjust="spacingAndGlyphs">HEV0122</text>
<text x="605.50" y="728.20" font-size="9" font-weight="normal" font-style="normal" text-anchor="middle" fill="#000" textLength="39.7" lengthAdjust="spacingAndGlyphs">HEV0069</text>
<line x1="272.30" y1="733.40" x2="637.00" y2="733.40" stroke="#000" stroke-width="2.0"/>
<text x="458.60" y="743.50" font-size="9" font-weight="normal" font-style="normal" text-anchor="middle" fill="#000">HD1</text>
</svg></body></html>
